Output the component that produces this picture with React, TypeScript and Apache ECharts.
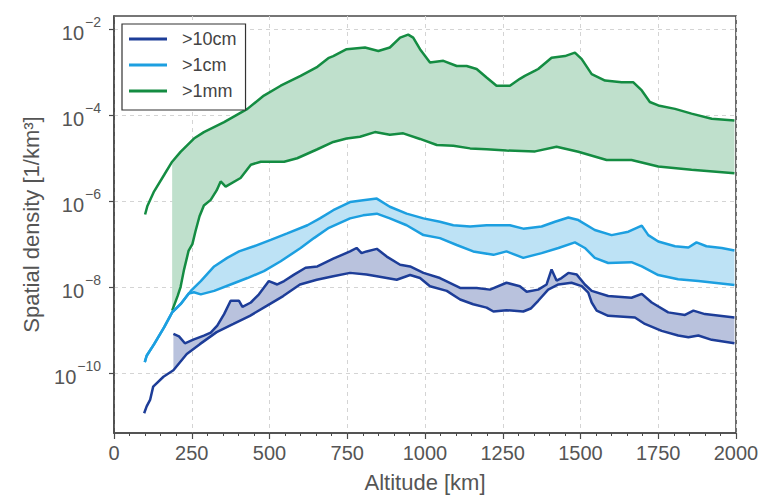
import React, { useEffect, useRef } from "react";
import * as echarts from "echarts";

// Altitude [km] vs log10 of spatial density [1/km^3]
const greenUpper: number[][] = [[100,-6.31],[107,-6.12],[129,-5.77],[161,-5.39],[187,-5.08],[214,-4.85],[257,-4.54],[289,-4.39],[354,-4.16],[429,-3.85],[482,-3.54],[536,-3.31],[600,-3.08],[654,-2.87],[691,-2.66],[705,-2.62],[748,-2.46],[807,-2.42],[850,-2.50],[887,-2.42],[920,-2.19],[946,-2.12],[962,-2.19],[984,-2.46],[1016,-2.77],[1059,-2.73],[1102,-2.85],[1134,-2.85],[1166,-2.92],[1198,-3.12],[1230,-3.31],[1273,-3.31],[1305,-3.15],[1321,-3.08],[1354,-2.96],[1364,-2.92],[1407,-2.66],[1450,-2.62],[1482,-2.54],[1504,-2.69],[1536,-3.04],[1579,-3.19],[1632,-3.23],[1670,-3.23],[1697,-3.42],[1723,-3.69],[1750,-3.77],[1804,-3.85],[1857,-3.96],[1922,-4.08],[1995,-4.12]];
const greenLower: number[][] = [[187,-8.55],[205,-8.2],[214,-8.0],[225,-7.6],[240,-7.15],[252,-7.0],[262,-6.7],[275,-6.35],[289,-6.1],[311,-5.97],[330,-5.75],[343,-5.54],[359,-5.66],[407,-5.46],[440,-5.15],[472,-5.08],[547,-5.08],[589,-5.0],[654,-4.79],[705,-4.62],[748,-4.54],[791,-4.50],[839,-4.39],[887,-4.45],[930,-4.42],[984,-4.55],[1038,-4.69],[1091,-4.71],[1145,-4.77],[1198,-4.79],[1262,-4.82],[1354,-4.84],[1423,-4.73],[1493,-4.85],[1584,-5.04],[1664,-5.04],[1750,-5.19],[1857,-5.27],[1995,-5.35]];
const lightUpper: number[][] = [[99,-9.75],[105,-9.6],[129,-9.33],[161,-8.94],[187,-8.59],[214,-8.40],[247,-8.09],[279,-7.86],[322,-7.52],[364,-7.32],[402,-7.17],[450,-7.05],[504,-6.90],[557,-6.75],[622,-6.56],[662,-6.40],[705,-6.21],[759,-6.02],[801,-5.98],[845,-5.94],[887,-6.13],[941,-6.29],[995,-6.40],[1048,-6.48],[1091,-6.56],[1145,-6.59],[1198,-6.56],[1241,-6.56],[1273,-6.56],[1316,-6.64],[1375,-6.59],[1418,-6.48],[1461,-6.38],[1493,-6.44],[1546,-6.67],[1600,-6.79],[1654,-6.71],[1697,-6.57],[1718,-6.79],[1750,-6.94],[1804,-7.05],[1847,-7.08],[1873,-6.96],[1905,-7.05],[1954,-7.09],[1995,-7.15]];
const lightLower: number[][] = [[99,-9.75],[105,-9.6],[129,-9.33],[161,-8.94],[187,-8.59],[214,-8.40],[240,-8.15],[257,-8.12],[279,-8.17],[322,-8.09],[375,-7.94],[429,-7.79],[482,-7.63],[536,-7.40],[600,-7.09],[643,-6.86],[691,-6.62],[759,-6.40],[801,-6.33],[845,-6.29],[887,-6.40],[941,-6.56],[995,-6.79],[1048,-6.86],[1102,-7.02],[1155,-7.17],[1220,-7.25],[1262,-7.17],[1316,-7.32],[1375,-7.21],[1429,-7.09],[1482,-6.96],[1514,-7.09],[1546,-7.32],[1589,-7.44],[1664,-7.42],[1697,-7.52],[1750,-7.72],[1814,-7.82],[1879,-7.86],[1995,-7.95]];
const darkUpper: number[][] = [[191,-9.09],[209,-9.15],[228,-9.31],[257,-9.22],[289,-9.13],[311,-9.06],[332,-8.90],[354,-8.63],[375,-8.32],[402,-8.32],[413,-8.46],[440,-8.36],[466,-8.17],[498,-7.86],[525,-7.94],[547,-7.86],[579,-7.71],[616,-7.55],[654,-7.52],[705,-7.34],[759,-7.17],[780,-7.09],[796,-7.21],[812,-7.17],[845,-7.11],[877,-7.29],[920,-7.48],[952,-7.52],[995,-7.67],[1048,-7.79],[1113,-8.02],[1166,-8.02],[1209,-8.06],[1262,-7.90],[1305,-7.98],[1327,-8.11],[1364,-8.06],[1391,-7.94],[1407,-7.59],[1423,-7.85],[1439,-7.79],[1461,-7.67],[1488,-7.71],[1514,-7.94],[1536,-8.09],[1589,-8.21],[1664,-8.25],[1697,-8.16],[1729,-8.36],[1782,-8.59],[1836,-8.65],[1863,-8.55],[1900,-8.63],[1995,-8.71]];
const darkLower: number[][] = [[97,-10.94],[105,-10.78],[116,-10.63],[126,-10.32],[159,-10.09],[191,-9.94],[234,-9.56],[276,-9.33],[330,-9.05],[384,-8.86],[437,-8.67],[491,-8.44],[544,-8.21],[598,-7.94],[652,-7.83],[705,-7.75],[759,-7.67],[812,-7.71],[845,-7.75],[909,-7.83],[952,-7.72],[984,-7.79],[1016,-7.98],[1070,-8.09],[1113,-8.29],[1155,-8.40],[1198,-8.48],[1220,-8.57],[1262,-8.54],[1316,-8.57],[1340,-8.50],[1364,-8.32],[1396,-8.06],[1429,-7.94],[1471,-7.90],[1504,-7.98],[1525,-8.13],[1536,-8.36],[1552,-8.55],[1589,-8.67],[1675,-8.71],[1707,-8.86],[1761,-9.02],[1814,-9.13],[1847,-9.17],[1879,-9.13],[1922,-9.23],[1995,-9.31]];

const sizeNames = [">10cm", ">1cm", ">1mm"];
const yLabelExponents = [-10, -8, -6, -4, -2];

const FONT = "Liberation Sans, Arial, sans-serif";
const C_DARK = "#1d3d98";
const C_LIGHT = "#1c9fe0";
const C_GREEN = "#148c42";

function bandSeries(name: string, upper: number[][], lower: number[][], fill: string) {
  const start = Math.max(upper[0][0], lower[0][0]);
  const up = upper.filter((p) => p[0] >= start);
  const lo = lower.filter((p) => p[0] >= start);
  return {
    type: "custom",
    name,
    silent: true,
    z: 1,
    data: [[start, up[0][1]]],
    renderItem: (_params: any, api: any) => {
      const pts = up.map((p) => api.coord(p)).concat(lo.slice().reverse().map((p) => api.coord(p)));
      return { type: "polygon", shape: { points: pts }, style: { fill } };
    },
  };
}

function lineSeries(name: string, data: number[][], color: string) {
  return {
    type: "line",
    name,
    data,
    symbol: "none",
    showSymbol: false,
    z: 3,
    itemStyle: { color },
    lineStyle: { color, width: 2.5 },
  };
}

export default function App() {
  const ref = useRef<HTMLDivElement>(null);
  useEffect(() => {
    if (!ref.current) return;
    const chart = echarts.init(ref.current, undefined, { renderer: "svg" });
    chart.setOption({
      animation: false,
      backgroundColor: "#fff",
      textStyle: { fontFamily: FONT },
      grid: { left: 114, right: 26, top: 16, bottom: 61, show: true, borderColor: "#4a4a4a", borderWidth: 1.6, backgroundColor: "transparent" },
      legend: {
        data: sizeNames,
        orient: "vertical",
        left: 122,
        top: 24,
        icon: "rect",
        itemWidth: 38,
        itemHeight: 3,
        itemGap: 6,
        padding: [5, 9, 9, 7],
        backgroundColor: "#fff",
        borderColor: "#333",
        borderWidth: 1.2,
        borderRadius: 0,
        textStyle: { fontSize: 18, color: "#444", fontFamily: FONT, lineHeight: 20, padding: [0, 0, 0, 10] },
      },
      xAxis: {
        type: "value",
        min: 0,
        max: 2000,
        interval: 250,
        name: "Altitude [km]",
        nameLocation: "middle",
        nameGap: 38,
        nameTextStyle: { fontSize: 22, color: "#555", fontFamily: FONT },
        axisLine: { lineStyle: { color: "#4a4a4a", width: 1.6 } },
        axisTick: { length: 6, lineStyle: { color: "#4a4a4a", width: 1.2 } },
        minorTick: { show: true, splitNumber: 5, length: 3, lineStyle: { color: "#4a4a4a", width: 1 } },
        axisLabel: { fontSize: 20, color: "#555", margin: 10, fontFamily: FONT, formatter: (v: number) => String(v) },
        splitLine: { show: true, lineStyle: { color: "#d4d4d4", type: [4, 4], width: 1 } },
      },
      yAxis: {
        type: "value",
        min: -11.4,
        max: -1.686,
        minInterval: 2,
        maxInterval: 2,
        name: "Spatial density [1/km³]",
        nameLocation: "middle",
        nameGap: 72,
        nameTextStyle: { fontSize: 22, color: "#555", fontFamily: FONT },
        axisLine: { lineStyle: { color: "#4a4a4a", width: 1.6 } },
        axisTick: { length: 5, customValues: yLabelExponents, lineStyle: { color: "#4a4a4a", width: 1.2 } },
        axisLabel: {
          customValues: yLabelExponents,
          margin: 13,
          formatter: (v: number) => `{b|10}{s|−${Math.abs(Math.round(v))}}`,
          rich: {
            b: { fontSize: 20, color: "#555", fontFamily: FONT, verticalAlign: "bottom" },
            s: { fontSize: 14, color: "#555", fontFamily: FONT, verticalAlign: "top", padding: [0, 0, 14, 1] },
          },
        },
        splitLine: { show: true, lineStyle: { color: "#d4d4d4", type: [4, 4], width: 1 } },
      },
      series: [
        bandSeries("fill1mm", greenUpper, greenLower, "#bfe0cc"),
        bandSeries("fill1cm", lightUpper, lightLower, "#bde2f5"),
        bandSeries("fill10cm", darkUpper, darkLower, "#b9c2dd"),
        lineSeries(">1mm", greenUpper, C_GREEN),
        lineSeries(">1mm", greenLower, C_GREEN),
        lineSeries(">1cm", lightUpper, C_LIGHT),
        lineSeries(">1cm", lightLower, C_LIGHT),
        lineSeries(">10cm", darkUpper, C_DARK),
        lineSeries(">10cm", darkLower, C_DARK),
      ],
    });
    return () => chart.dispose();
  }, []);
  return <div ref={ref} style={{ position: "fixed", left: 0, top: 0, width: 762, height: 498 }} />;
}
